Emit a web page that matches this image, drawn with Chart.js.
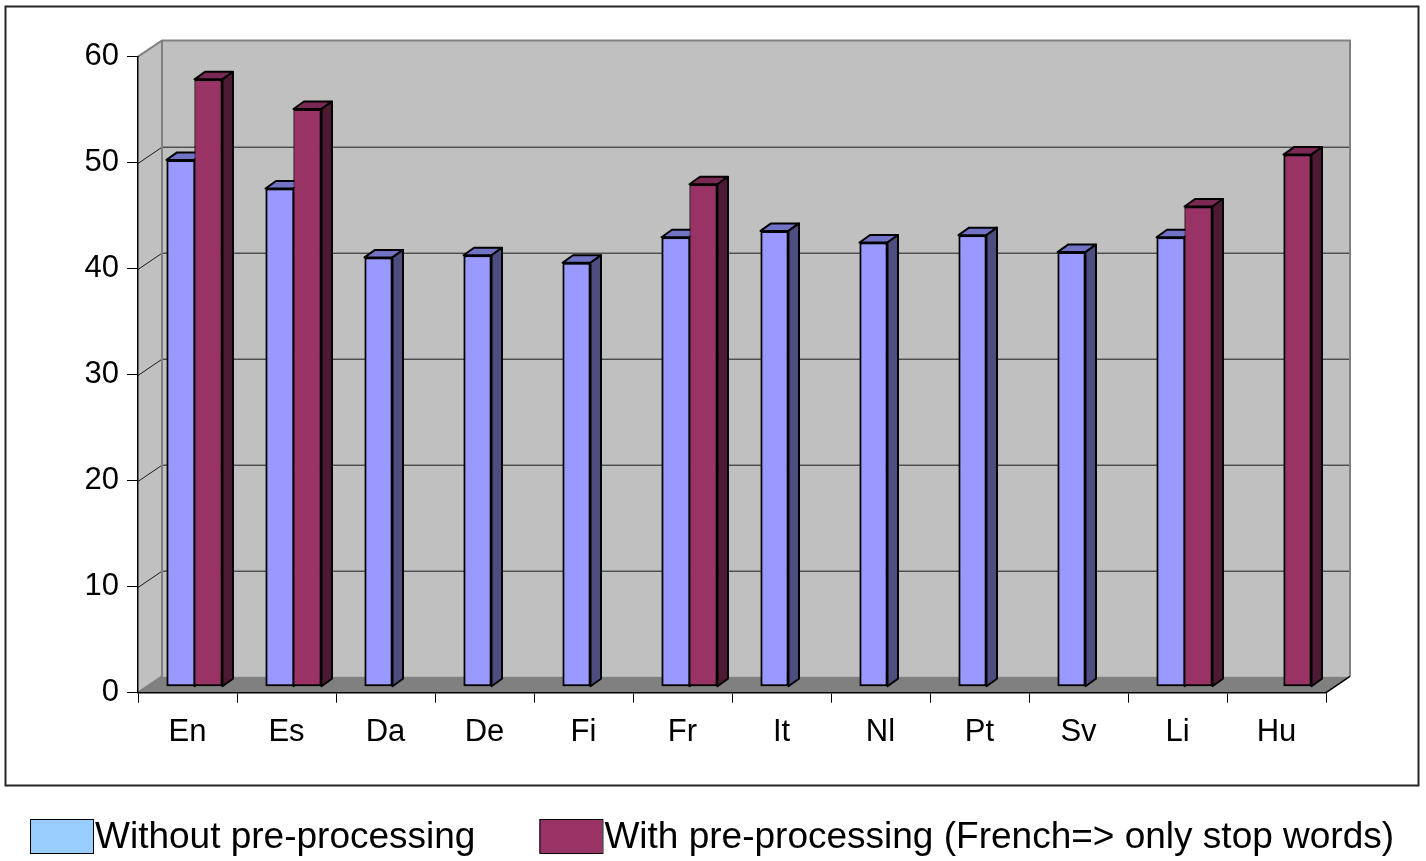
<!DOCTYPE html>
<html>
<head>
<meta charset="utf-8">
<script src="https://cdn.jsdelivr.net/npm/chart.js@4.4.1/dist/chart.umd.min.js"></script>
<style>
  html, body { margin: 0; padding: 0; background: #fff; }
  canvas { display: block; }
</style>
</head>
<body>
<canvas id="chart" width="1426" height="861"></canvas>
<script>
// Languages and scores for the two runs
const categories = ['En', 'Es', 'Da', 'De', 'Fi', 'Fr', 'It', 'Nl', 'Pt', 'Sv', 'Li', 'Hu'];
const withoutPre = [49.7, 47.0, 40.5, 40.7, 40.0, 42.4, 43.0, 41.9, 42.6, 41.0, 42.4, null];
const withPre    = [57.3, 54.5, null, null, null, 47.4, null, null, null, null, 45.3, 50.2];
const seriesNames = ['Without pre-processing', 'With pre-processing (French=> only stop words)'];
const yTicks = [0, 10, 20, 30, 40, 50, 60];

// Face colours of the boxes (front, top, side) and the legend swatches
const frontColors  = ['#9999ff', '#993366'];
const topColors    = ['#7373c6', '#7a2952'];
const sideColors   = ['#4d4d80', '#4d1a33'];
const legendColors = ['#99ccff', '#993366'];

// Perspective offsets
const WALL = { dx: 24, dy: -16.3 };   // front plane -> back wall
const SHIFT = { dx: 7, dy: -6 };      // front plane -> bar front faces
const DEPTH = { dx: 10.5, dy: -7.5 }; // bar front face -> bar back face

const FONT = '"Liberation Sans", Arial, Helvetica, sans-serif';

function poly(ctx, pts, fill) {
  ctx.beginPath();
  ctx.moveTo(pts[0][0], pts[0][1]);
  for (let i = 1; i < pts.length; i++) ctx.lineTo(pts[i][0], pts[i][1]);
  ctx.closePath();
  ctx.fillStyle = fill;
  ctx.fill();
  ctx.strokeStyle = '#000';
  ctx.lineWidth = 2;
  ctx.lineJoin = 'round';
  ctx.stroke();
}

// Walls, floor and back gridlines, painted before the axes
const walls = {
  id: 'walls',
  beforeDraw(chart) {
    const { ctx, chartArea: a, scales: { y } } = chart;
    const L = a.left, R = a.right, T = a.top, B = a.bottom;
    const bl = L + WALL.dx, br = R + WALL.dx, bt = T + WALL.dy, bb = B + WALL.dy;
    ctx.save();
    ctx.fillStyle = '#fff';
    ctx.fillRect(0, 0, chart.width, chart.height);

    ctx.strokeStyle = '#262626';
    ctx.lineWidth = 2;
    ctx.strokeRect(5.5, 6.5, 1413, 779);

    ctx.fillStyle = '#c0c0c0';
    ctx.fillRect(bl, bt, br - bl, bb - bt);
    ctx.beginPath();
    ctx.moveTo(L, T); ctx.lineTo(bl, bt); ctx.lineTo(bl, bb); ctx.lineTo(L, B);
    ctx.closePath();
    ctx.fill();

    ctx.fillStyle = '#808080';
    ctx.beginPath();
    ctx.moveTo(L, B); ctx.lineTo(bl, bb); ctx.lineTo(br, bb); ctx.lineTo(R, B);
    ctx.closePath();
    ctx.fill();

    ctx.strokeStyle = '#1a1a1a';
    ctx.lineWidth = 1;
    yTicks.forEach(v => {
      if (v === y.min || v === y.max) return;
      const py = Math.round(y.getPixelForValue(v)) + 0.5;
      ctx.beginPath();
      ctx.moveTo(L, py);
      ctx.lineTo(bl, py + WALL.dy);
      ctx.lineTo(br, py + WALL.dy);
      ctx.stroke();
    });

    ctx.strokeStyle = '#808080';
    ctx.lineWidth = 2;
    ctx.beginPath();
    ctx.moveTo(L, T); ctx.lineTo(bl, bt); ctx.lineTo(br, bt); ctx.lineTo(br, bb);
    ctx.stroke();
    ctx.beginPath();
    ctx.moveTo(bl, bt); ctx.lineTo(bl, bb); ctx.lineTo(L, B);
    ctx.stroke();

    ctx.strokeStyle = '#000';
    ctx.lineWidth = 1.5;
    ctx.beginPath();
    ctx.moveTo(R, B); ctx.lineTo(br, bb);
    ctx.stroke();
    ctx.restore();
  }
};

// Bars are set back from the front plane and given top and side faces
const boxes = {
  id: 'boxes',
  beforeDatasetsDraw(chart) {
    chart.ctx.save();
    chart.ctx.translate(SHIFT.dx, SHIFT.dy);
  },
  afterDatasetsDraw(chart) {
    const ctx = chart.ctx;
    const metas = [chart.getDatasetMeta(0), chart.getDatasetMeta(1)];
    categories.forEach((_, i) => {
      metas.forEach((meta, d) => {
        const value = chart.data.datasets[d].data[i];
        if (value === null || value === undefined) return;
        const el = meta.data[i];
        el.draw(ctx);
        const { x, y, base, width } = el.getProps(['x', 'y', 'base', 'width'], true);
        const l = x - width / 2, r = x + width / 2;
        poly(ctx, [[l, y], [l + DEPTH.dx, y + DEPTH.dy], [r + DEPTH.dx, y + DEPTH.dy], [r, y]], topColors[d]);
        poly(ctx, [[r, y], [r + DEPTH.dx, y + DEPTH.dy], [r + DEPTH.dx, base + DEPTH.dy], [r, base]], sideColors[d]);
      });
    });
    ctx.restore();
  }
};

// Legend row under the framed plot
const legendRow = {
  id: 'legendRow',
  afterDraw(chart) {
    const ctx = chart.ctx;
    ctx.save();
    ctx.font = '37px ' + FONT;
    ctx.textBaseline = 'middle';
    ctx.textAlign = 'left';
    let x = 30;
    seriesNames.forEach((name, d) => {
      ctx.fillStyle = legendColors[d];
      ctx.fillRect(x, 819, 63, 34);
      ctx.strokeStyle = '#000';
      ctx.lineWidth = 1;
      ctx.strokeRect(x + 0.5, 819.5, 63, 34);
      ctx.fillStyle = '#000';
      ctx.fillText(name, x + 65, 838);
      x += 65 + ctx.measureText(name).width + 64;
    });
    ctx.restore();
  }
};

const borderFor = (own, other) => ctx => {
  const i = ctx.dataIndex;
  const hasOther = other[i] !== null && other[i] !== undefined;
  return own === 0
    ? { top: 2, bottom: 2, left: 2, right: hasOther ? 1 : 2 }
    : { top: 2, bottom: 2, left: hasOther ? 1 : 2, right: 2 };
};

new Chart(document.getElementById('chart'), {
  type: 'bar',
  data: {
    labels: categories,
    datasets: [
      {
        label: seriesNames[0], data: withoutPre,
        backgroundColor: frontColors[0], borderColor: '#000',
        borderWidth: borderFor(0, withPre), borderSkipped: false,
        categoryPercentage: 0.565, barPercentage: 1
      },
      {
        label: seriesNames[1], data: withPre,
        backgroundColor: frontColors[1], borderColor: '#000',
        borderWidth: borderFor(1, withoutPre), borderSkipped: false,
        categoryPercentage: 0.565, barPercentage: 1
      }
    ]
  },
  options: {
    responsive: false,
    animation: false,
    devicePixelRatio: 1,
    events: [],
    layout: { padding: { top: 56.7, right: 100, bottom: 0, left: 0 } },
    plugins: { legend: { display: false }, tooltip: { enabled: false } },
    scales: {
      x: {
        offset: true,
        grid: { display: true, drawOnChartArea: false, drawTicks: true, tickLength: 10, color: '#000', offset: true },
        border: { display: true, color: '#000', width: 1.5 },
        ticks: { font: { family: FONT, size: 31 }, color: '#000', padding: 11, maxRotation: 0, autoSkip: false },
        afterFit(scale) { scale.height = 168.3; }
      },
      y: {
        min: 0, max: 60,
        afterBuildTicks(scale) { scale.ticks = yTicks.map(v => ({ value: v })); },
        grid: { display: true, drawOnChartArea: false, drawTicks: true, tickLength: 11, color: '#000' },
        border: { display: true, color: '#000', width: 1.5 },
        ticks: { font: { family: FONT, size: 31 }, color: '#000', padding: 8 },
        afterFit(scale) { scale.width = 138; }
      }
    }
  },
  plugins: [walls, boxes, legendRow]
});
</script>
</body>
</html>
